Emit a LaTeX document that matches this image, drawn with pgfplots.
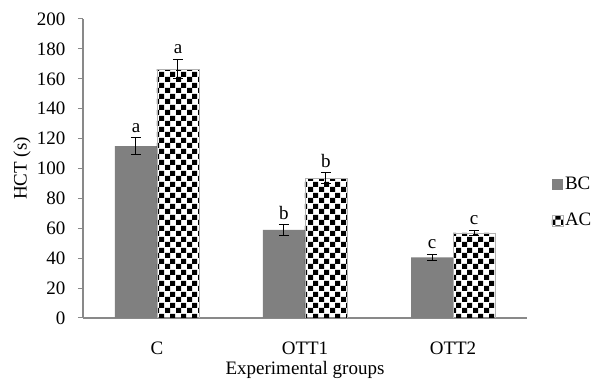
\documentclass[border=0pt]{standalone}
\usepackage{fontspec}
\setmainfont{Liberation Serif}
\usepackage{pgfplots}
\pgfplotsset{compat=1.18}
\usepackage{pgfplotstable}
\usetikzlibrary{patterns}
\definecolor{axgray}{RGB}{137,137,137}
\definecolor{bcgray}{RGB}{128,128,128}
\pgfdeclarepatternformonly{bigchecker}{\pgfpointorigin}{\pgfqpoint{11pt}{11pt}}{\pgfqpoint{11pt}{11pt}}{%
  \pgfpathrectangle{\pgfpointorigin}{\pgfqpoint{5.5pt}{5.5pt}}%
  \pgfpathrectangle{\pgfqpoint{5.5pt}{5.5pt}}{\pgfqpoint{5.5pt}{5.5pt}}%
  \pgfusepath{fill}}
\pgfplotstableread{
x y err lab
0 115 5.5 a
1 59 3.5 b
2 40.5 2.3 c
}\bcdata
\pgfplotstableread{
x y err lab
0 166.5 6.5 a
1 93.5 3.5 b
2 57 1.8 c
}\acdata
\newcommand{\ff}{\fontsize{19}{22}\selectfont}
\begin{document}
\ff
\begin{tikzpicture}
\path[use as bounding box] (-83pt,-61pt) rectangle (512pt,318pt);
\begin{axis}[
  at={(0,0)}, anchor=south west,
  scale only axis, width=444pt, height=299pt,
  ybar=0pt, bar width=42pt,
  xmin=-0.5, xmax=2.5, ymin=0, ymax=200,
  xtick={0,1,2}, xticklabels={C,OTT1,OTT2},
  extra x ticks={-0.5,0.5,1.5,2.5}, extra x tick labels={},
  extra x tick style={major tick length=6pt, tick style={axgray, line width=1pt}},
  ytick={0,20,...,200},
  axis x line*=bottom, axis y line*=left,
  axis line style={axgray, line width=1.2pt, -},
  x axis line style={line width=1.5pt},
  major tick length=5pt,
  xtick style={draw=none},
  ytick style={axgray, line width=1pt},
  tick align=outside,
  /pgf/number format/assume math mode=true,
  tick label style={font=\ff},
  xticklabel style={yshift=-12pt},
  yticklabel style={xshift=-6pt},
  xlabel={Experimental groups},
  ylabel={HCT (s)},
  label style={font=\ff},
  xlabel style={at={(axis description cs:0.5,0)}, anchor=center, yshift=-52pt},
  ylabel style={at={(axis description cs:-0.1374,0.5)}, anchor=center},
  legend style={at={(1.055,0.385)}, anchor=west, draw=none, fill=none,
    font=\ff, row sep=17pt, inner sep=0pt},
  legend cell align=left,
  legend image code/.code={\fill[#1] (0pt,-5pt) rectangle (11pt,6pt);},
  error bars/error bar style={black, line width=1pt},
  error bars/error mark options={black, line width=1pt, mark size=5pt, rotate=90},
]
\addplot[fill=bcgray, draw=none, bar shift=-21pt,
  error bars/.cd, y dir=both, y explicit]
  table[x=x, y=y, y error=err] {\bcdata};
\addplot[draw=gray!60, pattern=bigchecker, pattern color=black, bar shift=21pt,
  error bars/.cd, y dir=both, y explicit]
  table[x=x, y=y, y error=err] {\acdata};
\legend{BC,AC}
\addplot[draw=none, fill=none, bar shift=-21pt, forget plot,
  nodes near coords, point meta=explicit symbolic,
  every node near coord/.append style={font=\ff, anchor=south, inner sep=0pt, yshift=5pt}]
  table[x=x, y expr=\thisrow{y}+\thisrow{err}, meta=lab] {\bcdata};
\addplot[draw=none, fill=none, bar shift=21pt, forget plot,
  nodes near coords, point meta=explicit symbolic,
  every node near coord/.append style={font=\ff, anchor=south, inner sep=0pt, yshift=5pt}]
  table[x=x, y expr=\thisrow{y}+\thisrow{err}, meta=lab] {\acdata};
\end{axis}
\end{tikzpicture}
\end{document}
